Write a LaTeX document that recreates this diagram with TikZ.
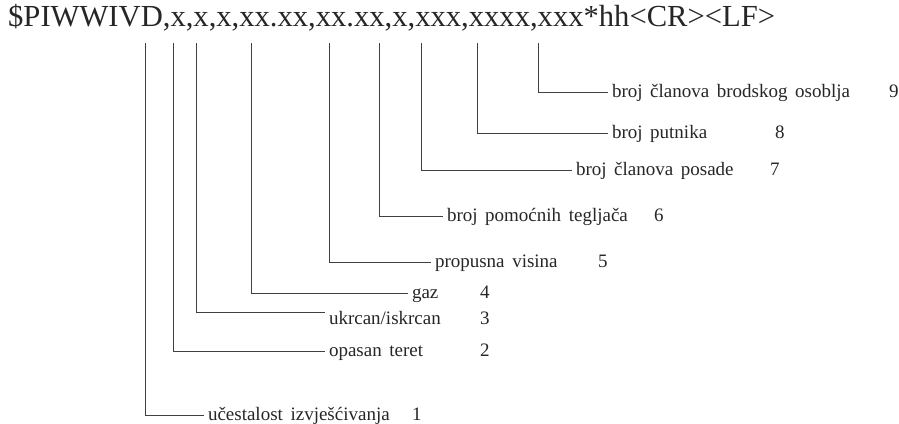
\documentclass[tikz,border=0pt]{standalone}
\usepackage{fontspec}
\setmainfont{Liberation Serif}
\newfontfamily\labfont[WordSpace=1.6]{Liberation Serif}
\tikzset{
  conn/.style={draw=black!75, line width=0.7pt},
  lab/.style={anchor=west, inner sep=0pt, outer sep=4pt, text height=11pt, text depth=1pt, font=\labfont\fontsize{19}{22}\selectfont, text=black!85},
  num/.style={anchor=west, inner sep=0pt, text height=11pt, text depth=1pt, font=\labfont\fontsize{19}{22}\selectfont, text=black!85},
  titlestyle/.style={anchor=base west, inner sep=0pt, font=\fontsize{30.6}{34}\selectfont, text=black!85}
}
\begin{document}
\begin{tikzpicture}[x=1pt,y=-1pt]
\useasboundingbox (0,0) rectangle (899,423);
\node[titlestyle] (title) at (8,27) {\$PIWWIVD,x,x,x,xx.xx,xx.xx,x,xxx,xxxx,xxx*hh<CR><LF>};
% top ends of field leaders
\coordinate (t1) at (145,43);
\coordinate (t2) at (173,43);
\coordinate (t3) at (196,43);
\coordinate (t4) at (251,43);
\coordinate (t5) at (329,43);
\coordinate (t6) at (379,43);
\coordinate (t7) at (421,43);
\coordinate (t8) at (477,43);
\coordinate (t9) at (538,43);
% labels
\node[lab] (l9) at (608,92) {broj članova brodskog osoblja};
\node[lab] (l8) at (608,133) {broj putnika};
\node[lab] (l7) at (572,170) {broj članova posade};
\node[lab] (l6) at (443,216) {broj pomoćnih tegljača};
\node[lab] (l5) at (431,262) {propusna visina};
\node[lab] (l4) at (408,293) {gaz};
\node[lab] (l3) at (325,319) {ukrcan/iskrcan};
\node[lab] (l2) at (325,351) {opasan teret};
\node[lab] (l1) at (204,415) {učestalost izvješćivanja};
% numbers
\node[num] (n9) at (889,92) {9};
\node[num] (n8) at (775,133) {8};
\node[num] (n7) at (770,170) {7};
\node[num] (n6) at (654,216) {6};
\node[num] (n5) at (598,262) {5};
\node[num] (n4) at (480,293) {4};
\node[num] (n3) at (480,319) {3};
\node[num] (n2) at (480,351) {2};
\node[num] (n1) at (412,415) {1};
% connectors
\foreach \i in {1,2,4,5,6,7,8,9} {
  \draw[conn] (t\i) |- (l\i.west);
}
\draw[conn] (t3) |- ([yshift=7pt]l3.west);
\end{tikzpicture}
\end{document}
